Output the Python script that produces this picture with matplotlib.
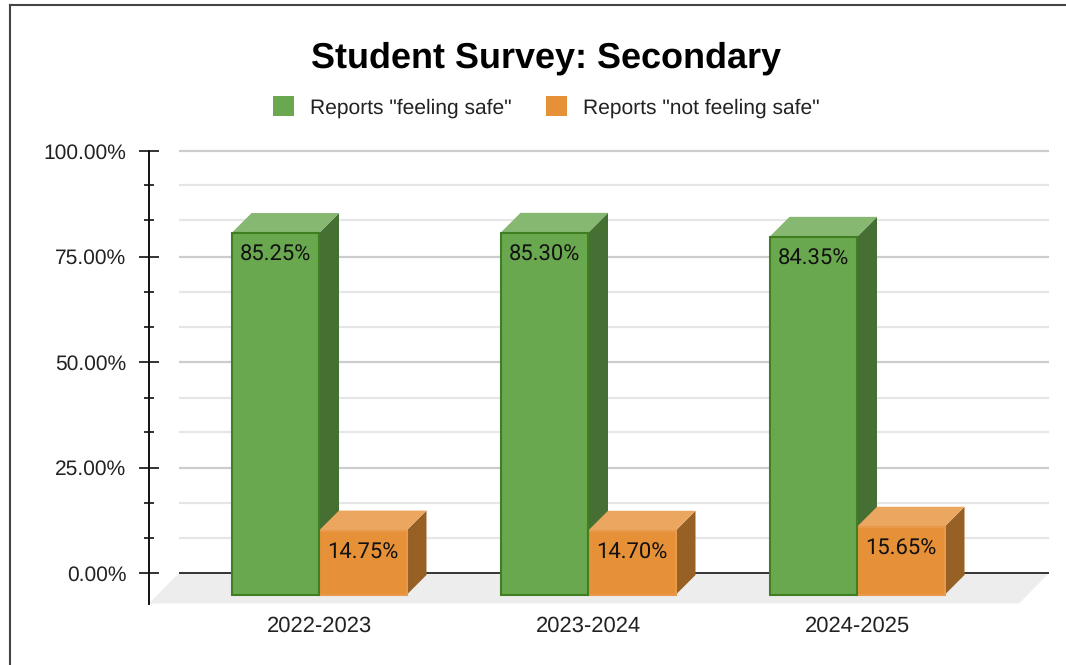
import matplotlib
matplotlib.use("Agg")
import matplotlib.pyplot as plt
from matplotlib.patches import Polygon, Patch
from matplotlib.lines import Line2D

categories = ["2022-2023", "2023-2024", "2024-2025"]
feeling_safe = [85.25, 85.30, 84.35]
not_safe = [14.75, 14.70, 15.65]
major_ticks = [0, 25, 50, 75, 100]
major_labels = ["0.00%", "25.00%", "50.00%", "75.00%", "100.00%"]
minor_ticks = [8.3, 16.5, 33.3, 41.5, 58.3, 66.5, 83.6, 92]
series_names = ['Reports "feeling safe"', 'Reports "not feeling safe"']

W, H = 1066, 665
plt.rcParams["font.family"] = ["Liberation Sans", "DejaVu Sans"]
plt.rcParams["text.hinting"] = "no_hinting"
plt.rcParams["text.hinting_factor"] = 1
fig = plt.figure(figsize=(W / 100, H / 100), dpi=100, facecolor="white")

# axes box in pixels (from the top-left corner of the figure)
L, R, T, B = 149, 1049, 151, 603.5
ax = fig.add_axes([L / W, 1 - B / H, (R - L) / W, (B - T) / H])
PX_Y = 4.22            # pixels per percent
PX_X = 269.0           # pixels per category
ax.set_ylim(-(B - 573) / PX_Y, 100)
ax.set_xlim((L - 319) / PX_X, (R - 319) / PX_X)

DX = 20 / PX_X         # depth of the boxes
DY = 20 / PX_Y
SHIFT = 19.8 / PX_Y    # front plane sits below the back wall
FRONT_BASE = -22 / PX_Y
BAR_W = 87.5 / PX_X
GRID_X0 = (179 - 319) / PX_X
FLOOR_D = 30

# back wall gridlines and floor
ax.hlines(minor_ticks, GRID_X0, ax.get_xlim()[1], color="#E6E6E6", lw=1.6, zorder=1)
ax.hlines(major_ticks[1:], GRID_X0, ax.get_xlim()[1], color="#CCCCCC", lw=1.6, zorder=1,
          clip_on=False)
ylo = ax.get_ylim()[0]
x0, x1 = ax.get_xlim()
ax.add_patch(Polygon([(x0, ylo), (GRID_X0, 0), (x1, 0), (x1 - FLOOR_D / PX_X, ylo)],
                     closed=True, fc="#EDEDED", ec="none", zorder=1.5))
ax.hlines([0], GRID_X0, x1, color="#333333", lw=1.4, zorder=2)


def box(x_left, value, front, top, side, edge, z, front_z):
    x_right = x_left + BAR_W
    y_top = value - SHIFT
    ax.add_patch(Polygon([(x_right, FRONT_BASE), (x_right + DX, FRONT_BASE + DY),
                          (x_right + DX, y_top + DY), (x_right, y_top)],
                         closed=True, fc=side, ec="none", zorder=z))
    ax.add_patch(Polygon([(x_left, y_top), (x_left + DX, y_top + DY),
                          (x_right + DX, y_top + DY), (x_right, y_top)],
                         closed=True, fc=top, ec="none", zorder=z))
    ax.bar(x_left, y_top - FRONT_BASE, BAR_W, bottom=FRONT_BASE, align="edge",
           color=front, edgecolor=edge, linewidth=1.5, zorder=front_z)
    ax.annotate(f"{value:.2f}%", (x_left + BAR_W / 2, y_top), xytext=(0.3, -15.8),
                textcoords="offset points", ha="center", va="center",
                fontsize=15.75, color="#111111", family=["Roboto", "Liberation Sans"],
                zorder=front_z + 0.05)


for i in range(len(categories)):
    box(i - BAR_W, feeling_safe[i], "#6AA84F", "#86B872", "#467033", "#3F7F22", 3 + i, 3.6 + i)
    box(i, not_safe[i], "#E69138", "#EBA65F", "#976025", "#E8994A", 3.2 + i, 3.4 + i)

# axes furniture
for s in ("top", "right", "bottom"):
    ax.spines[s].set_visible(False)
ax.spines["left"].set_color("#111111")
ax.spines["left"].set_linewidth(1.4)
ax.patch.set_visible(False)
ax.set_yticks(major_ticks, major_labels)
ax.set_yticks(minor_ticks, minor=True)
ax.tick_params(axis="y", which="major", direction="inout", length=15, width=1.2,
               color="#111111", labelsize=15.4, labelcolor="#222222", pad=8.7)
ax.tick_params(axis="y", which="minor", direction="inout", length=7.5, width=1.2,
               color="#111111")
ax.set_xticks(range(len(categories)), categories)
ax.tick_params(axis="x", length=0, labelsize=15.6, labelcolor="#222222", pad=9)

# title and legend
fig.text(546 / W, 1 - 58 / H, "Student Survey: Secondary", ha="center", va="center",
         fontsize=25.7, fontweight="bold", color="black")
handles = [Patch(fc="#6AA84F", ec="none"), Patch(fc="#E69138", ec="none")]
fig.legend(handles, series_names, loc="center", bbox_to_anchor=(546 / W, 1 - 107 / H),
           ncol=2, frameon=False, fontsize=15.45, labelcolor="#222222",
           handlelength=1.0, handleheight=1.0, handletextpad=0.72, columnspacing=1.6,
           borderpad=0, borderaxespad=0)

# outer frame of the screenshot
for xs, ys in (([9.5, 9.5], [665, 5]), ([9.5, 1066], [5, 5])):
    fig.add_artist(Line2D([x / W for x in xs], [1 - y / H for y in ys],
                          color="#444444", lw=1.5))

fig.savefig("out.png", dpi=100, facecolor="white")
